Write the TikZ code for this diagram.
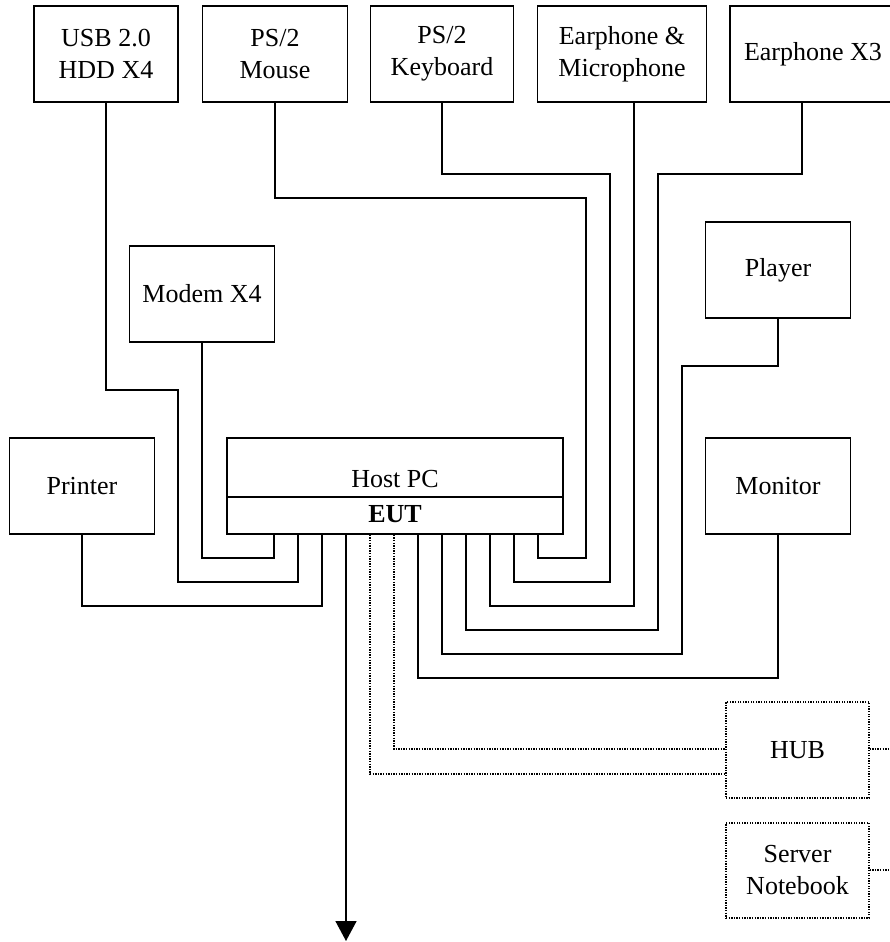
\documentclass[tikz,border=0pt]{standalone}
\usepackage{fontspec}
\setmainfont{Liberation Serif}
\usetikzlibrary{arrows.meta}
\tikzset{
  box/.style={draw, line width=1.6pt, rectangle, inner sep=0pt, align=center,
    font=\fontsize{26}{32}\selectfont},
  dbox/.style={box, line width=1.2pt, dash pattern=on 1.3pt off 1.3pt},
  wire/.style={line width=1.6pt},
  dwire/.style={line width=1.2pt, dash pattern=on 1.3pt off 1.3pt},
  lbl/.style={inner sep=0pt, font=\fontsize{26}{32}\selectfont},
}
\begin{document}
\begin{tikzpicture}[x=1pt,y=-1pt]
\useasboundingbox (0,0) rectangle (889,942);
% top row
\node[box, minimum width=144pt, minimum height=96pt] (usb) at (106,54) {USB 2.0\\HDD X4};
\node[box, minimum width=145pt, minimum height=96pt] (mouse) at (275,54) {PS/2\\Mouse};
\node[box, minimum width=143pt, minimum height=96pt] (kbd) at (442,54) {PS/2\\Keyboard};
\node[box, minimum width=169pt, minimum height=96pt] (mic) at (622,54) {Earphone \&\\Microphone};
\node[box, minimum width=166pt, minimum height=96pt] (ear) at (813,54) {Earphone X3};
% middle
\node[box, minimum width=145pt, minimum height=96pt] (modem) at (202,294) {Modem X4};
\node[box, minimum width=145pt, minimum height=96pt] (player) at (778,270) {Player};
\node[box, minimum width=145pt, minimum height=96pt] (printer) at (82,486) {Printer};
\node[box, minimum width=145pt, minimum height=96pt] (monitor) at (778,486) {Monitor};
% host
\node[box, minimum width=336pt, minimum height=96pt] (host) at (395,486) {};
\draw[wire] (host.west |- 0,497) -- (host.east |- 0,497);
\node[lbl, anchor=base] (hosttxt) at (395,487) {Host PC};
\node[lbl, anchor=base] (eut) at (395,522) {\bfseries EUT};
% dotted boxes
\node[dbox, minimum width=143pt, minimum height=96pt] (hub) at (797.5,750) {HUB};
\node[dbox, minimum width=143pt, minimum height=95pt] (server) at (797.5,870.5) {Server\\Notebook};
% left wires
\draw[wire] (modem.south) -- (202,558) -- (274,558) -- (274,0 |- host.south);
\draw[wire] (usb.south) -- (106,390) -- (178,390) -- (178,582) -- (298,582) -- (298,0 |- host.south);
\draw[wire] (printer.south) -- (82,606) -- (322,606) -- (322,0 |- host.south);
% right wires
\draw[wire] (mouse.south) -- (275,198) -- (586,198) -- (586,558) -- (538,558) -- (538,0 |- host.south);
\draw[wire] (kbd.south) -- (442,174) -- (610,174) -- (610,582) -- (514,582) -- (514,0 |- host.south);
\draw[wire] (634,0 |- mic.south) -- (634,606) -- (490,606) -- (490,0 |- host.south);
\draw[wire] (802,0 |- ear.south) -- (802,174) -- (658,174) -- (658,630) -- (466,630) -- (466,0 |- host.south);
\draw[wire] (player.south) -- (778,366) -- (682,366) -- (682,654) -- (442,654) -- (442,0 |- host.south);
\draw[wire] (monitor.south) -- (778,678) -- (418,678) -- (418,0 |- host.south);
% arrow
\coordinate (out) at (346,941);
\draw[wire, -{Triangle[width=21pt,length=20pt]}] (346,0 |- host.south) -- (out);
% dotted wires
\draw[dwire] (370,0 |- host.south) -- (370,774) -- (hub.west |- 0,774);
\draw[dwire] (394,0 |- host.south) -- (394,749) -- (hub.west |- 0,749);
\coordinate (hubout) at (889,749);
\coordinate (srvout) at (889,870);
\draw[dwire] (hub.east |- 0,749) -- (hubout);
\draw[dwire] (server.east |- 0,870) -- (srvout);
\end{tikzpicture}
\end{document}
